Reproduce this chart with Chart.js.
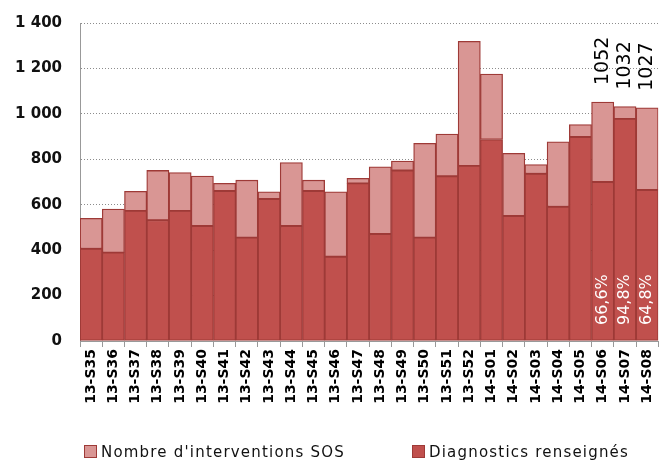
<!DOCTYPE html>
<html>
<head>
<meta charset="utf-8">
<script src="https://cdn.jsdelivr.net/npm/chart.js@4.4.0/dist/chart.umd.min.js"></script>
<style>
  body { margin: 0; background: #fff; }
  #wrap { position: relative; width: 666px; height: 463px; }
  #legend { position: absolute; left: 0; top: 443px; width: 666px; height: 20px;
            font-family: "DejaVu Sans", sans-serif; font-size: 15px; color: #111; letter-spacing: 1.2px; }
  #legend .item { position: absolute; top: 0; white-space: nowrap; }
  #legend .box { display: inline-block; width: 11px; height: 11px; margin-right: 4px;
                 vertical-align: -1px; border: 1px solid #9e3a37; }
</style>
</head>
<body>
<div id="wrap">
  <canvas id="chart" width="666" height="463"></canvas>
  <div id="legend">
    <span class="item" style="left:84px"><span class="box" style="background:#d99694"></span>Nombre d'interventions SOS</span>
    <span class="item" style="left:412px"><span class="box" style="background:#c0504d"></span>Diagnostics renseignés</span>
  </div>
</div>
<script>
// Semaines (axe X)
const semaines = ['13-S35', '13-S36', '13-S37', '13-S38', '13-S39', '13-S40', '13-S41', '13-S42', '13-S43',
  '13-S44', '13-S45', '13-S46', '13-S47', '13-S48', '13-S49', '13-S50', '13-S51', '13-S52',
  '14-S01', '14-S02', '14-S03', '14-S04', '14-S05', '14-S06', '14-S07', '14-S08'];

// Nombre total d'interventions SOS (hauteur totale de la barre)
const interventions = [540, 581, 659, 751, 742, 726, 694, 708, 657, 786, 708, 657, 716, 767, 792, 870, 911, 1319,
  1175, 826, 777, 877, 953, 1052, 1032, 1027];

// Diagnostics renseignés (partie foncée)
const diagnostics = [406, 389, 573, 532, 573, 506, 660, 455, 625, 506, 660, 371, 694, 471, 751, 455, 725, 771,
  887, 550, 736, 591, 898, 700, 978, 665];

// Etiquettes des dernières semaines
const semainesEtiquetees = ['14-S06', '14-S07', '14-S08'];
const etiquettesTotal = ['1052', '1032', '1027'];
const etiquettesPct = ['66,6%', '94,8%', '64,8%'];

const yTicks = [0, 200, 400, 600, 800, 1000, 1200, 1400];

const couleurFonce = '#c0504d';
const couleurClair = '#d99694';
const couleurBord = '#9e3a37';

// partie claire = interventions sans diagnostic
const reste = interventions.map((v, i) => v - diagnostics[i]);

function formatMilliers(v) {
    return String(v).replace(/\B(?=(\d{3})+(?!\d))/g, ' ');
}

// Dessine les valeurs tournées au-dessus des barres et les % dans les barres
const etiquettesPlugin = {
    id: 'etiquettes',
    afterDatasetsDraw(chart) {
        const ctx = chart.ctx;
        const metaHaut = chart.getDatasetMeta(1);
        const bas = chart.chartArea.bottom;
        semainesEtiquetees.forEach((s, k) => {
            const i = semaines.indexOf(s);
            const bar = metaHaut.data[i];
            ctx.save();
            ctx.font = '19px "DejaVu Sans"';
            ctx.fillStyle = '#000';
            ctx.textAlign = 'left';
            ctx.textBaseline = 'middle';
            ctx.translate(bar.x, bar.y - 17);
            ctx.rotate(-Math.PI / 2);
            ctx.fillText(etiquettesTotal[k], 0, 0);
            ctx.restore();

            ctx.save();
            ctx.font = '16px "DejaVu Sans"';
            ctx.fillStyle = '#fff';
            ctx.textAlign = 'left';
            ctx.textBaseline = 'middle';
            ctx.translate(bar.x, bas - 16);
            ctx.rotate(-Math.PI / 2);
            ctx.fillText(etiquettesPct[k], 0, 0);
            ctx.restore();
        });
    }
};

const ctx = document.getElementById('chart').getContext('2d');
new Chart(ctx, {
    type: 'bar',
    data: {
        labels: semaines,
        datasets: [
            {
                label: 'Diagnostics renseignés',
                data: diagnostics,
                backgroundColor: couleurFonce,
                borderColor: couleurBord,
                borderWidth: 1.3,
                borderSkipped: false,
                barPercentage: 1,
                categoryPercentage: 1
            },
            {
                label: "Nombre d'interventions SOS",
                data: reste,
                backgroundColor: couleurClair,
                borderColor: couleurBord,
                borderWidth: 1.3,
                borderSkipped: false,
                barPercentage: 1,
                categoryPercentage: 1
            }
        ]
    },
    options: {
        responsive: false,
        animation: false,
        layout: { padding: { top: 23, right: 1, left: 0, bottom: 0 } },
        plugins: {
            legend: { display: false },
            tooltip: { enabled: false }
        },
        scales: {
            x: {
                stacked: true,
                grid: { offset: true, drawOnChartArea: false, tickLength: 6, color: '#999' },
                border: { color: '#999' },
                ticks: {
                    autoSkip: false,
                    minRotation: 90,
                    maxRotation: 90,
                    padding: 2,
                    color: '#000',
                    font: { family: 'DejaVu Sans', size: 14, weight: 'bold' }
                },
                afterFit: s => { s.height = 122; }
            },
            y: {
                stacked: true,
                min: 0,
                max: 1400,
                afterBuildTicks: s => { s.ticks = yTicks.map(v => ({ value: v })); },
                grid: { color: '#8c8c8c', drawTicks: false },
                border: { color: '#999', dash: [1, 2] },
                ticks: {
                    padding: 18,
                    color: '#111',
                    font: { family: 'DejaVu Sans', size: 15, weight: 'bold' },
                    callback: v => formatMilliers(v)
                },
                afterFit: s => { s.width = 80; s.paddingTop = 0; s.paddingBottom = 0; }
            }
        }
    },
    plugins: [etiquettesPlugin]
});
</script>
</body>
</html>
